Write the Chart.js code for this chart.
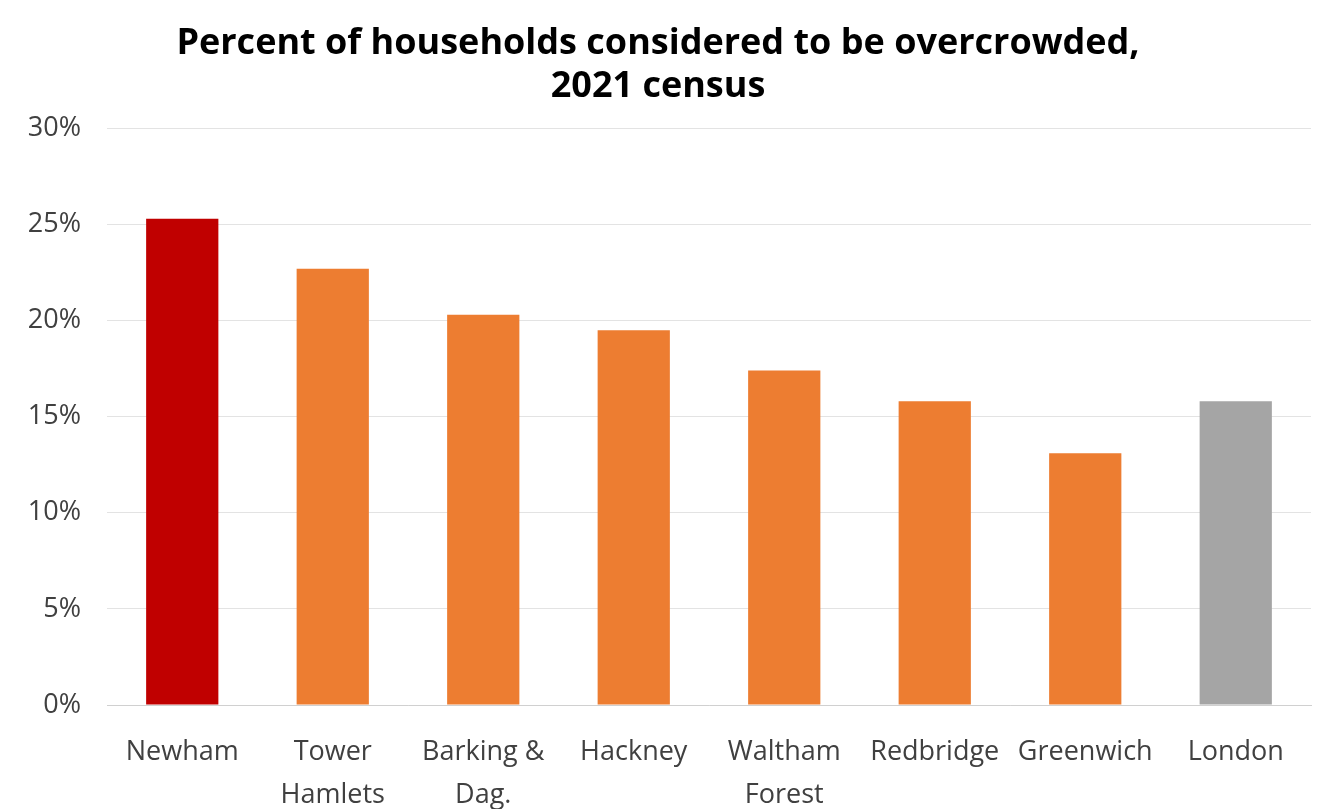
<!DOCTYPE html>
<html>
<head>
<meta charset="utf-8">
<title>Overcrowded households, 2021 census</title>
<script src="https://cdn.jsdelivr.net/npm/chart.js@4.4.1/dist/chart.umd.min.js"></script>
<style>
  html, body { margin: 0; padding: 0; background: #fff; }
  #wrap { width: 1325px; height: 809px; }
</style>
</head>
<body>
<div id="wrap"><canvas id="crowdChart"></canvas></div>
<script>
// Boroughs (multi-line labels) and their overcrowding share, in percent
const areas = [
  'Newham',
  ['Tower', 'Hamlets'],
  ['Barking &', 'Dag.'],
  'Hackney',
  ['Waltham', 'Forest'],
  'Redbridge',
  'Greenwich',
  'London'
];
const overcrowdedPct = [25.3, 22.7, 20.3, 19.5, 17.4, 15.8, 13.1, 15.8];
const yTicks = [0, 5, 10, 15, 20, 25, 30];

// Newham highlighted, London average in grey
const barColours = ['#C00000', '#ED7D31', '#ED7D31', '#ED7D31', '#ED7D31', '#ED7D31', '#ED7D31', '#A5A5A5'];

const FONT = "'Open Sans', 'Noto Sans', sans-serif";

const ctx = document.getElementById('crowdChart').getContext('2d');

new Chart(ctx, {
  type: 'bar',
  data: {
    labels: areas,
    datasets: [{
      data: overcrowdedPct,
      backgroundColor: barColours,
      borderWidth: 0,
      barPercentage: 0.48,
      categoryPercentage: 1
    }]
  },
  options: {
    responsive: true,
    maintainAspectRatio: false,
    animation: false,
    layout: {
      padding: { left: 5, right: 14, top: 0, bottom: 0 }
    },
    scales: {
      y: {
        min: 0,
        max: 30,
        afterBuildTicks: function(scale) {
          scale.ticks = yTicks.map(v => ({ value: v }));
        },
        afterFit: function(scale) {
          scale.width = 102;
        },
        ticks: {
          callback: v => v + '%',
          color: '#404040',
          padding: 26,
          font: { family: FONT, size: 27 }
        },
        grid: {
          color: '#e3e3e3',
          lineWidth: 1,
          drawTicks: false
        },
        border: { display: false }
      },
      x: {
        afterFit: function(scale) {
          scale.height = 104;
        },
        ticks: {
          color: '#404040',
          padding: 26,
          maxRotation: 0,
          autoSkip: false,
          font: { family: FONT, size: 27, lineHeight: 1.6 }
        },
        grid: { display: false, drawTicks: false },
        border: { display: true, color: '#d0d0d0', width: 1 }
      }
    },
    plugins: {
      legend: { display: false },
      tooltip: { enabled: false },
      title: {
        display: true,
        text: ['Percent of households considered to be overcrowded,', '2021 census'],
        color: '#000',
        font: { family: FONT, size: 36, weight: 'bold', lineHeight: 1.2 },
        padding: { top: 22, bottom: 20 }
      }
    }
  }
});
</script>
</body>
</html>
